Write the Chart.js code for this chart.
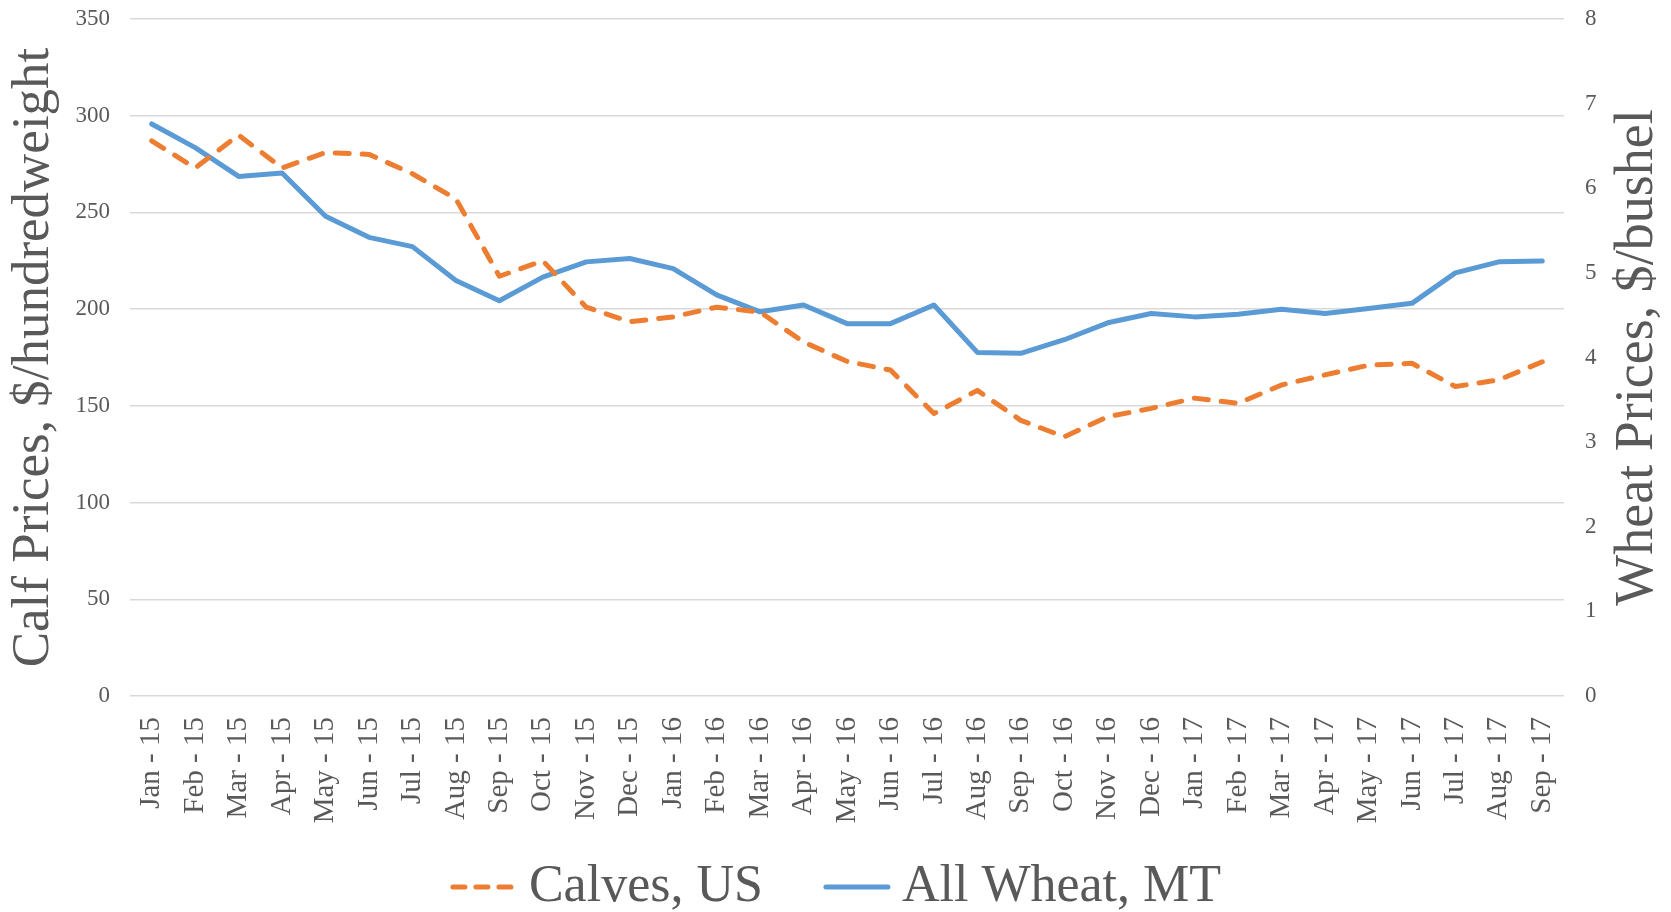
<!DOCTYPE html>
<html>
<head>
<meta charset="utf-8">
<title>Calf and Wheat Prices</title>
<script src="https://cdn.jsdelivr.net/npm/chart.js@4.4.1/dist/chart.umd.min.js"></script>
<style>
    body { margin: 0; background: #fff; }
    .chart-wrap { width: 1671px; height: 912px; position: relative; }
</style>
</head>
<body>
<div class="chart-wrap"><canvas id="myChart"></canvas></div>
<script>
const months = [
    'Jan - 15', 'Feb - 15', 'Mar - 15', 'Apr - 15', 'May - 15', 'Jun - 15', 'Jul - 15', 'Aug - 15', 'Sep - 15', 'Oct - 15', 'Nov - 15', 'Dec - 15',
    'Jan - 16', 'Feb - 16', 'Mar - 16', 'Apr - 16', 'May - 16', 'Jun - 16', 'Jul - 16', 'Aug - 16', 'Sep - 16', 'Oct - 16', 'Nov - 16', 'Dec - 16',
    'Jan - 17', 'Feb - 17', 'Mar - 17', 'Apr - 17', 'May - 17', 'Jun - 17', 'Jul - 17', 'Aug - 17', 'Sep - 17'
]
// $/hundredweight
const calves = [
    287, 273, 290, 273, 281, 280, 270, 257, 217, 225, 201, 193.5,
    196, 201, 198.5, 183, 173, 168.5, 146, 158, 142.5, 134, 144.4, 148.7,
    154, 151.3, 160.8, 166, 171, 172, 160, 163.4, 172.8
]
// $/bushel
const wheat = [
    6.76, 6.48, 6.14, 6.18, 5.67, 5.42, 5.31, 4.91, 4.67, 4.95, 5.13, 5.17,
    5.05, 4.74, 4.54, 4.62, 4.40, 4.40, 4.62, 4.06, 4.05, 4.21, 4.41, 4.52,
    4.48, 4.51, 4.57, 4.52, 4.58, 4.64, 5.00, 5.13, 5.14
]
const calfTicks = [0, 350, 50]
const wheatTicks = [0, 8, 1]
const seriesNames = ['Calves, US', 'All Wheat, MT']
const calfTitle = 'Calf Prices, $/hundredweight'
const wheatTitle = 'Wheat Prices, $/bushel'

const fontFamily = "'Liberation Serif', 'Times New Roman', serif"
const textColor = '#595959'

// right axis title reads bottom-to-top like the left one
const rightTitle = {
    id: 'rightTitle',
    afterDraw(chart) {
        const ctx = chart.ctx
        const area = chart.chartArea
        ctx.save()
        ctx.translate(chart.width - 33, (area.top + area.bottom) / 2)
        ctx.rotate(-Math.PI / 2)
        ctx.font = '54px ' + fontFamily
        ctx.fillStyle = textColor
        ctx.textAlign = 'center'
        ctx.textBaseline = 'middle'
        ctx.fillText(wheatTitle, 0, 0)
        ctx.restore()
    }
}

// legend like the excel one: short sample, tight gap to text
const bottomLegend = {
    id: 'bottomLegend',
    afterDraw(chart) {
        const ctx = chart.ctx
        const sampleW = 68, gapText = 11, gapItem = 60, cy = 887
        ctx.save()
        ctx.font = '52px ' + fontFamily
        const items = chart.data.datasets.map(ds => ({ ds, w: ctx.measureText(ds.label).width }))
        let total = 0
        items.forEach((it, i) => { total += sampleW + gapText + it.w + (i ? gapItem : 0) })
        let x = (chart.width - total) / 2
        items.forEach((it, i) => {
            if (i) x += gapItem
            ctx.beginPath()
            ctx.strokeStyle = it.ds.borderColor
            ctx.lineWidth = it.ds.borderWidth
            ctx.lineCap = 'round'
            ctx.setLineDash(it.ds.borderDash ? [12, 11] : [])
            ctx.moveTo(x + 3, cy)
            ctx.lineTo(x + sampleW - 3, cy)
            ctx.stroke()
            ctx.setLineDash([])
            x += sampleW + gapText
            ctx.fillStyle = textColor
            ctx.textAlign = 'left'
            ctx.textBaseline = 'middle'
            ctx.fillText(it.ds.label, x, cy)
            x += it.w
        })
        ctx.restore()
    }
}

// fixed axis widths, and no extra top room for the tick labels
const fitY = (width) => (scale) => {
    scale.width = width
    scale.paddingTop = 0
    scale.paddingBottom = 0
}

const drawChart = () => {
    Chart.defaults.font.family = fontFamily
    Chart.defaults.color = textColor

    new Chart('myChart', {
        type: 'line',
        data: {
            labels: months,
            datasets: [{
                label: seriesNames[0],
                data: calves,
                yAxisID: 'y',
                borderColor: '#ED7D31',
                backgroundColor: '#ED7D31',
                borderWidth: 5,
                borderDash: [14, 13],
                borderCapStyle: 'round',
                borderJoinStyle: 'round',
                pointRadius: 0,
                tension: 0
            }, {
                label: seriesNames[1],
                data: wheat,
                yAxisID: 'y1',
                borderColor: '#5B9BD5',
                backgroundColor: '#5B9BD5',
                borderWidth: 5,
                borderCapStyle: 'round',
                borderJoinStyle: 'round',
                pointRadius: 0,
                tension: 0
            }]
        },
        options: {
            responsive: true,
            maintainAspectRatio: false,
            animation: false,
            layout: { padding: { top: 19, bottom: 81, left: 0, right: 0 } },
            plugins: {
                tooltip: { enabled: false },
                legend: { display: false }
            },
            scales: {
                x: {
                    offset: true,
                    grid: { display: false },
                    border: { display: false },
                    ticks: {
                        autoSkip: false,
                        minRotation: 90,
                        maxRotation: 90,
                        padding: 13,
                        color: textColor,
                        font: { size: 29 }
                    },
                    afterFit: (scale) => { scale.height = 135 }
                },
                y: {
                    position: 'left',
                    min: calfTicks[0],
                    max: calfTicks[1],
                    grid: { color: '#d9d9d9', lineWidth: 1.5, drawTicks: false },
                    border: { display: false },
                    ticks: {
                        stepSize: calfTicks[2],
                        padding: 20,
                        color: textColor,
                        font: { size: 23 }
                    },
                    title: {
                        display: true,
                        text: calfTitle,
                        color: textColor,
                        font: { size: 53, lineHeight: 1 },
                        padding: { top: 8, bottom: 0 }
                    },
                    afterFit: fitY(130)
                },
                y1: {
                    position: 'right',
                    min: wheatTicks[0],
                    max: wheatTicks[1],
                    grid: { display: false, drawTicks: false },
                    border: { display: false },
                    ticks: {
                        stepSize: wheatTicks[2],
                        padding: 21,
                        color: textColor,
                        font: { size: 23 }
                    },
                    afterFit: fitY(107)
                }
            }
        },
        plugins: [rightTitle, bottomLegend]
    })
}

drawChart()
</script>
</body>
</html>
